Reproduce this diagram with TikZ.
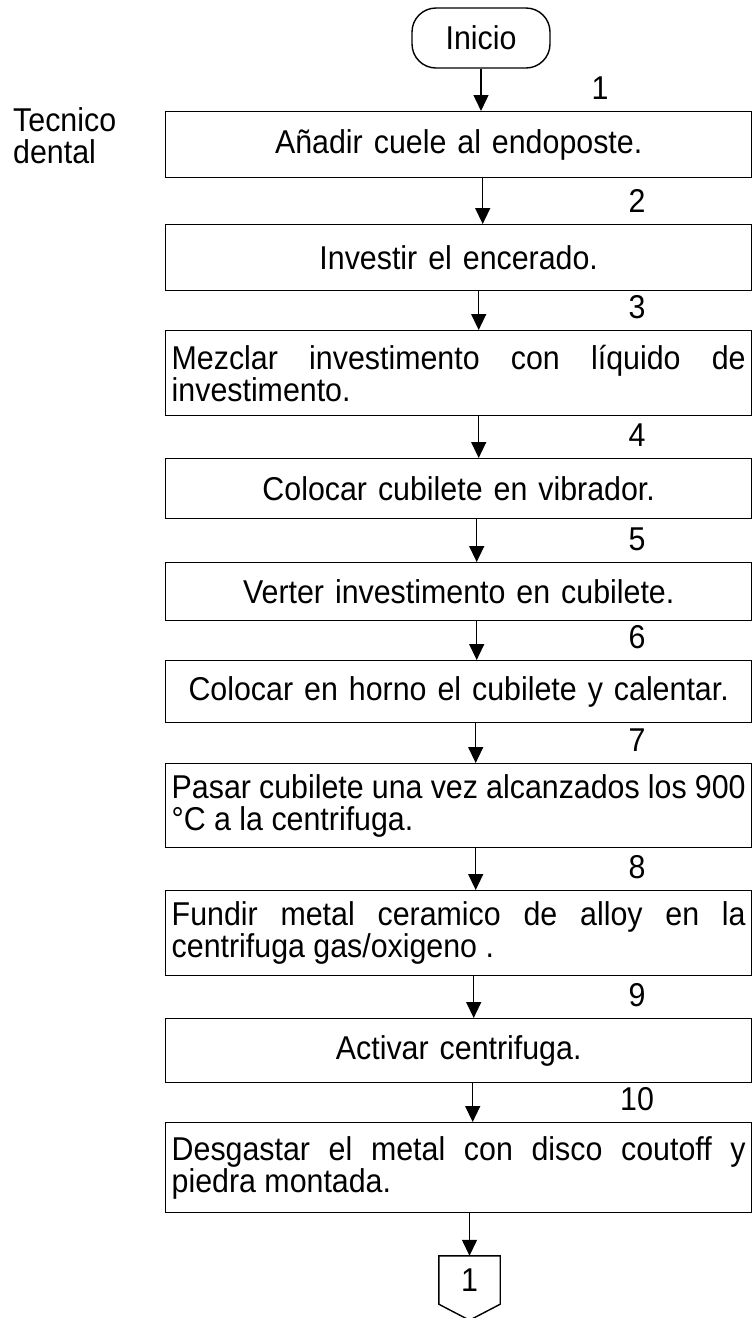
\documentclass[tikz,border=0pt]{standalone}
\usepackage{fontspec}
\setmainfont{Liberation Sans}[FakeStretch=0.92]
\usetikzlibrary{arrows.meta}
\hyphenpenalty=10000
\tolerance=10000

\begin{document}
\begin{tikzpicture}[x=1pt,y=-1pt,
	every node/.style={font=\LETRA},
	paso/.style={draw,line width=1.4pt,text width=574pt,inner xsep=6pt,inner ysep=0pt,align=center,anchor=north west},
	pasolargo/.style={paso,align=justify},
	numero/.style={inner sep=0pt},
	flecha/.style={line width=1.4pt,-{Triangle[width=15pt,length=16pt]}}]

\def\LETRA{\fontsize{33}{32}\selectfont}
\def\BORDE{black}
	\useasboundingbox (0,0) rectangle (752,1318);
	\node[draw=\BORDE,line width=1.4pt,rounded corners=24pt,minimum width=138pt,minimum height=60pt] (inicio) at (481,38) {Inicio};
	\node[inner sep=0pt,align=left,anchor=north west] (tecnico) at (13,107) {Tecnico\\dental};
	\node[paso,minimum height=66pt] (p1) at (165,111) {Añadir cuele al endoposte.};
	\node[paso,minimum height=66pt] (p2) at (165,224) {Investir el encerado.};
	\node[pasolargo,minimum height=85pt] (p3) at (165,330) {Mezclar investimento con líquido de investimento.};
	\node[paso,minimum height=60pt] (p4) at (165,458) {Colocar cubilete en vibrador.};
	\node[paso,minimum height=58pt] (p5) at (165,562) {Verter investimento en cubilete.};
	\node[paso,minimum height=62pt] (p6) at (165,660) {Colocar en horno el cubilete y calentar.};
	\node[pasolargo,minimum height=84pt] (p7) at (165,763) {Pasar cubilete una vez alcanzados los 900 °C a la centrifuga.};
	\node[pasolargo,minimum height=85pt] (p8) at (165,890) {Fundir metal ceramico de alloy en la centrifuga gas/oxigeno .};
	\node[paso,minimum height=64pt] (p9) at (165,1018) {Activar centrifuga.};
	\node[pasolargo,minimum height=90pt] (p10) at (165,1122) {Desgastar el metal con disco coutoff y piedra montada.};
	\node[minimum width=61pt,minimum height=48pt,inner sep=0pt] (conector) at (469.5,1280) {1};
	\draw[draw=\BORDE,line width=1.4pt] (conector.north west) -- (conector.north east) -- (conector.south east) -- ([yshift=-16pt]conector.south) -- (conector.south west) -- cycle;
	\node[numero] (n1) at (600,88) {1};
	\node[numero] (n2) at (637,201) {2};
	\node[numero] (n3) at (637,307) {3};
	\node[numero] (n4) at (637,435) {4};
	\node[numero] (n5) at (637,539) {5};
	\node[numero] (n6) at (637,637) {6};
	\node[numero] (n7) at (637,740) {7};
	\node[numero] (n8) at (637,867) {8};
	\node[numero] (n9) at (637,995) {9};
	\node[numero] (n10) at (637,1099) {10};
	\draw[flecha] (inicio.south) -- (inicio.south |- p1.north);
	\draw[flecha] ([xshift=24pt]p1.south) -- ([xshift=24pt]p2.north);
	\draw[flecha] ([xshift=20pt]p2.south) -- ([xshift=20pt]p3.north);
	\draw[flecha] ([xshift=20pt]p3.south) -- ([xshift=20pt]p4.north);
	\draw[flecha] ([xshift=18pt]p4.south) -- ([xshift=18pt]p5.north);
	\draw[flecha] ([xshift=18pt]p5.south) -- ([xshift=18pt]p6.north);
	\draw[flecha] ([xshift=17pt]p6.south) -- ([xshift=17pt]p7.north);
	\draw[flecha] ([xshift=17pt]p7.south) -- ([xshift=17pt]p8.north);
	\draw[flecha] ([xshift=15pt]p8.south) -- ([xshift=15pt]p9.north);
	\draw[flecha] ([xshift=14pt]p9.south) -- ([xshift=14pt]p10.north);
	\draw[flecha] (p10.south -| conector.north) -- (conector.north);

\end{tikzpicture}
\end{document}
